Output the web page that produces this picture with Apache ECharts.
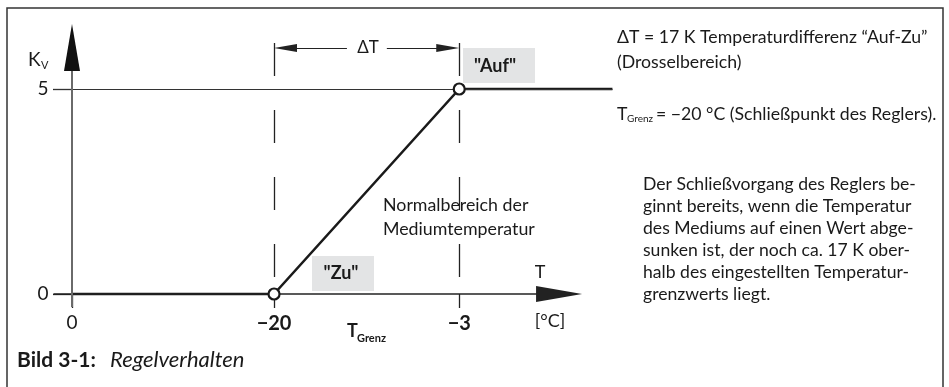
<!DOCTYPE html>
<html><head><meta charset="utf-8">
<script src="https://cdn.jsdelivr.net/npm/echarts@6/dist/echarts.min.js"></script>
<style>html,body{margin:0;padding:0;background:#fff}#c{width:949px;height:387px}</style>
</head><body><div id="c"></div>
<script>
// ---- data (schematic positions along the T axis) ----
const tLabels = ['0', '−20', '−3'];
const tPos = [0, 12, 23];
const kvTicks = [0, 5];
const curveT = [0, 12, 23, 32.1];
const curveKv = [0, 0, 5, 5];
const pointT = [12, 23];
const pointKv = [0, 5];

const FONT = 'Lato';
const INK = '#1a1a1a';
const X_MIN = -1.1, X_MAX = 32.2, Y_MIN = -0.32, Y_MAX = 6.58;

const chart = echarts.init(document.getElementById('c'), null, {renderer: 'canvas'});

function txt(text, x, y, size, opts) {
  opts = opts || {};
  return {
    type: 'text', silent: true, z: 20,
    style: {
      text: text, x: x, y: y,
      fontFamily: FONT, fontSize: size,
      fontWeight: opts.bold ? 'bold' : 'normal',
      fontStyle: opts.italic ? 'italic' : 'normal',
      fill: INK,
      align: opts.align || 'left',
      verticalAlign: 'middle'
    }
  };
}

const para = [
  'Der Schließvorgang des Reglers be-',
  'ginnt bereits, wenn die Temperatur',
  'des Mediums auf einen Wert abge-',
  'sunken ist, der noch ca. 17 K ober-',
  'halb des eingestellten Temperatur-',
  'grenzwerts liegt.'
];

const graphics = [
  // frame
  {type: 'polyline', silent: true, shape: {points: [[7, 387], [7, 8], [943, 8], [943, 387]]},
   style: {stroke: '#333', lineWidth: 1.5, fill: null}},
  // grey boxes
  {type: 'rect', silent: true, z: 5, shape: {x: 463, y: 48, width: 72, height: 35}, style: {fill: '#e3e4e5'}},
  {type: 'rect', silent: true, z: 5, shape: {x: 312, y: 256, width: 62, height: 35}, style: {fill: '#e3e4e5'}},
  txt('"Auf"', 495, 66, 18, {bold: true, align: 'center'}),
  txt('"Zu"', 341, 273, 18, {bold: true, align: 'center'}),
  // axis names
  txt('K', 28, 60, 19),
  txt('V', 41, 65, 11),
  txt('T', 540, 272, 18, {align: 'center'}),
  txt('[°C]', 550, 321, 18, {align: 'center'}),
  txt('T', 347, 331, 18, {bold: true}),
  txt('Grenz', 357, 338, 11, {bold: true}),
  txt('ΔT', 368, 48, 17, {align: 'center'}),
  txt('Normalbereich der', 383, 205, 17.8),
  txt('Mediumtemperatur', 383, 229, 17.8),
  // right side notes
  txt('ΔT = 17 K Temperaturdifferenz “Auf-Zu”', 617, 37, 17.7),
  txt('(Drosselbereich)', 617, 62, 17.7),
  txt('T', 617, 114, 17.7),
  txt('Grenz', 627, 119, 10),
  txt('= −20 °C (Schließpunkt des Reglers).', 656, 114, 17.7),
  // caption
  txt('Bild 3-1:', 17, 360, 21, {bold: true}),
  txt('Regelverhalten', 110, 360, 22, {italic: true})
];
para.forEach(function (line, i) { graphics.push(txt(line, 643, 184 + i * 22, 17.6)); });

const dashed = {color: '#222', width: 1.3, type: [33, 34]};
const option = {
  animation: false,
  backgroundColor: '#fff',
  grid: {left: 72 + X_MIN * 16.836, width: (X_MAX - X_MIN) * 16.836, top: 294 - Y_MAX * 41, height: (Y_MAX - Y_MIN) * 41},
  xAxis: {
    type: 'value', min: X_MIN, max: X_MAX,
    axisLine: {show: true, onZero: true, lineStyle: {color: 'rgba(0,0,0,0)'}},
    splitLine: {show: false},
    axisTick: {show: true, customValues: tPos, length: 14, inside: false, lineStyle: {color: '#222', width: 1.3}},
    axisLabel: {
      customValues: tPos, margin: 6,
      formatter: function (v) {
        const i = tPos.indexOf(v);
        if (i < 0) return '';
        return i === 0 ? '{n|' + tLabels[i] + '}' : '{b|' + tLabels[i] + '}';
      },
      rich: {
        n: {fontFamily: FONT, fontSize: 19, color: INK},
        b: {fontFamily: FONT, fontSize: 20, fontWeight: 'bold', color: INK}
      }
    }
  },
  yAxis: {
    type: 'value', min: Y_MIN, max: Y_MAX,
    axisLine: {show: true, onZero: true, lineStyle: {color: 'rgba(0,0,0,0)'}},
    splitLine: {show: false},
    axisTick: {show: true, customValues: kvTicks, length: 19, inside: false, lineStyle: {color: '#222', width: 1.3}},
    axisLabel: {customValues: kvTicks, margin: 5, fontFamily: FONT, fontSize: 19, color: INK}
  },
  graphic: graphics,
  series: [
    {
      type: 'line', clip: false, z: 3,
      data: curveT.map(function (t, i) { return [t, curveKv[i]]; }),
      symbol: 'none',
      lineStyle: {color: '#1a1a1a', width: 2.6},
      markLine: {
        silent: true, animation: false, symbol: ['none', 'none'],
        label: {show: false}, emphasis: {disabled: true},
        data: [
          // Kv = 5 reference line
          [{coord: [X_MIN, 5], lineStyle: {color: '#333', width: 1.2, type: 'solid'}},
           {coord: [32.1, 5], lineStyle: {color: '#333', width: 1.2, type: 'solid'}}],
          // T axis with arrow
          [{coord: [X_MIN, 0], lineStyle: {color: '#222', width: 1.5, type: 'solid'}},
           {coord: [28.93, 0], symbol: 'triangle', symbolSize: [16, 46], lineStyle: {color: '#222', width: 1.5, type: 'solid'}}],
          // Kv axis (grey)
          [{coord: [0, Y_MIN], lineStyle: {color: '#6a6a6a', width: 2, type: 'solid'}},
           {coord: [0, 5.9], lineStyle: {color: '#6a6a6a', width: 2, type: 'solid'}}],
          // Kv arrow head
          [{coord: [0, 5.6], lineStyle: {color: '#111', width: 1, type: 'solid'}},
           {coord: [0, 6.012], symbol: 'triangle', symbolSize: [16, 47], lineStyle: {color: '#111', width: 1, type: 'solid'}}],
          // dashed extension lines
          [{coord: [tPos[1], 6.12], lineStyle: dashed}, {coord: [tPos[1], 0], lineStyle: dashed}],
          [{coord: [tPos[2], 6.12], lineStyle: dashed}, {coord: [tPos[2], 0], lineStyle: dashed}],
          // dimension line Delta T
          [{coord: [16.33, 6.0], lineStyle: {color: '#222', width: 1.2, type: 'solid'}},
           {coord: [12.68, 6.0], symbol: 'triangle', symbolSize: [8, 23], lineStyle: {color: '#222', width: 1.2, type: 'solid'}}],
          [{coord: [18.7, 6.0], lineStyle: {color: '#222', width: 1.2, type: 'solid'}},
           {coord: [22.32, 6.0], symbol: 'triangle', symbolSize: [8, 23], lineStyle: {color: '#222', width: 1.2, type: 'solid'}}]
        ]
      }
    },
    {
      type: 'scatter', z: 6, clip: false,
      data: pointT.map(function (t, i) { return [t, pointKv[i]]; }),
      symbol: 'circle', symbolSize: 11,
      itemStyle: {color: '#ffffff', opacity: 1, borderColor: '#1a1a1a', borderWidth: 2.2},
      emphasis: {disabled: true}
    }
  ]
};
chart.setOption(option);
</script>
</body></html>
